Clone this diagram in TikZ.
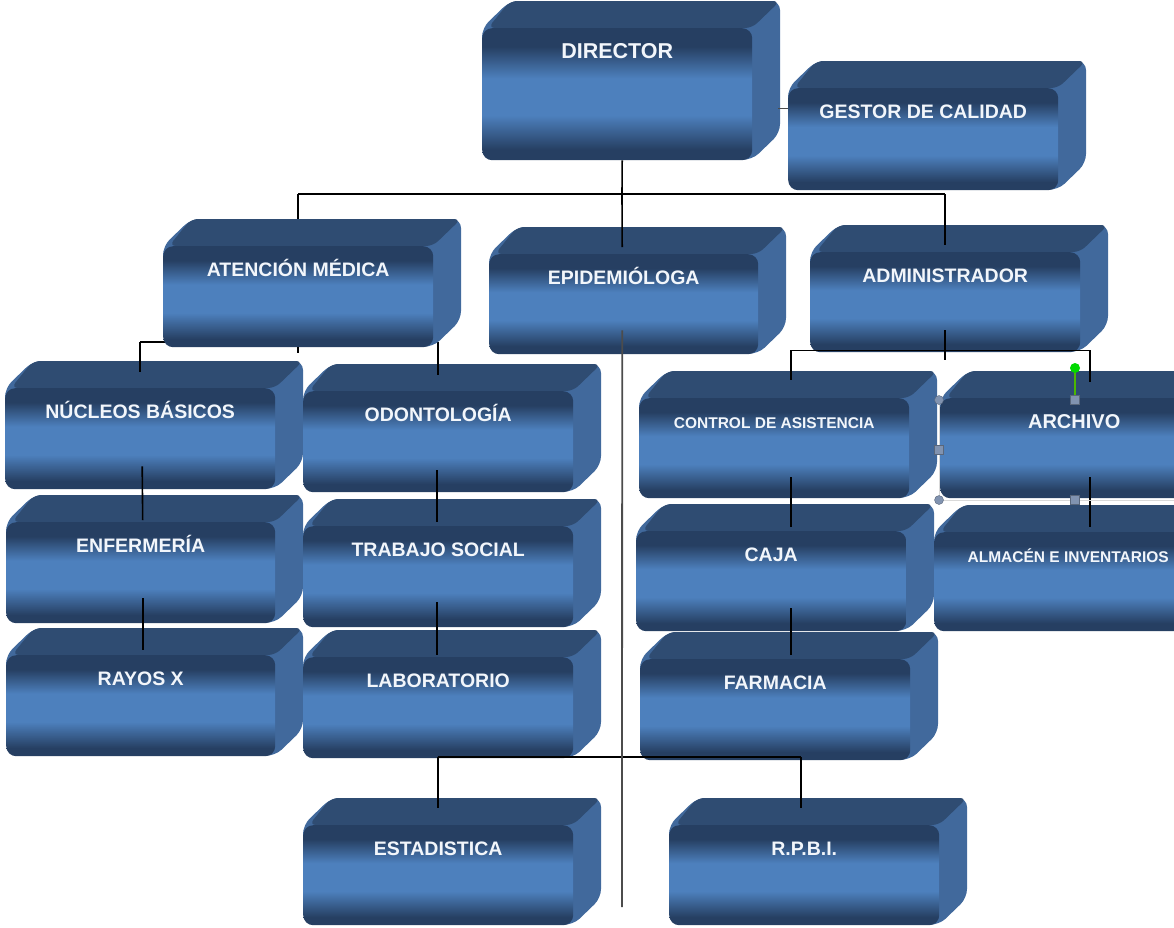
\documentclass[tikz,border=0pt]{standalone}
\usepackage{fontspec}
\setmainfont{Liberation Sans}
\usetikzlibrary{calc}
\definecolor{fdk}{HTML}{263F62}
\definecolor{flt}{HTML}{4D80BD}
\definecolor{topc}{HTML}{2F4C72}
\definecolor{sidec}{HTML}{41699C}
\definecolor{txtc}{HTML}{F2F6FB}
\definecolor{handle}{HTML}{8193B0}
\pgfdeclareverticalshading{frontgrad}{100bp}{color(0bp)=(fdk); color(25bp)=(fdk); color(29bp)=(fdk); color(42bp)=(flt); color(56bp)=(flt); color(68bp)=(fdk); color(75bp)=(fdk); color(100bp)=(fdk)}
\tikzset{
  frontbox/.style={rectangle, rounded corners=10pt, shading=frontgrad, anchor=north west,
    inner sep=0pt, text height=30pt, text=txtc},
  conn/.style={draw=black, line width=1.6pt},
  conng/.style={draw=black!70, line width=1.8pt},
}
\newcommand\tdbox[7]{%
  \fill[sidec,rounded corners=9pt] (#2,{#5-12}) -- (#2,#3) -- ({#2+28},{#3-27}) -- ({#4+28},{#3-27}) -- ({#4+28},{#5-27}) -- (#4,#5) -- cycle;
  \fill[topc,rounded corners=7pt] ({#2+6},#3) -- ({#2+28},{#3-27}) -- ({#4+28},{#3-27}) -- (#4,#3) -- cycle;
  \pgfmathsetmacro\bw{#4-#2}\pgfmathsetmacro\bh{#5-#3}\pgfmathsetmacro\bd{#5-#3-30}%
  \node[frontbox,minimum width=\bw pt,minimum height=\bh pt,text depth=\bd pt,font=\bfseries\fontsize{#6}{#6}\selectfont] (#1) at (#2,#3) {#7};
}
\begin{document}
\begin{tikzpicture}[x=1pt,y=-1pt]
\useasboundingbox (0,0) rectangle (1174,927);
\clip (0,0) rectangle (1174,927);
% top level
\tdbox{dir}{482}{28}{752}{160}{21.5}{DIRECTOR}
\tdbox{ges}{788}{88}{1058}{190}{19.5}{GESTOR DE CALIDAD}
\tdbox{epi}{489}{254}{758}{354}{19.5}{EPIDEMIÓLOGA}
\tdbox{adm}{810}{252}{1080}{352}{19.5}{ADMINISTRADOR}
% left branch
\tdbox{nuc}{5}{388}{275}{489}{19.5}{NÚCLEOS BÁSICOS}
\tdbox{odo}{303}{391}{573}{492}{19.5}{ODONTOLOGÍA}
\coordinate (b2) at (0,342);
\draw[conn] (nuc.north |- b2) -- (odo.north |- b2);
\draw[conn] (nuc.north |- b2) -- ([yshift=16pt]nuc.north);
\draw[conn] (odo.north |- b2) -- ([yshift=16pt]odo.north);
\tdbox{aten}{163}{246}{433}{347}{19.5}{ATENCIÓN MÉDICA}
\draw[conn] (aten.south) -- ++(0,6);
\tdbox{enf}{6}{522}{275}{623}{19.5}{ENFERMERÍA}
\tdbox{tra}{303}{526}{573}{627}{19.5}{TRABAJO SOCIAL}
\tdbox{ray}{6}{655}{275}{756}{19.5}{RAYOS X}
\tdbox{lab}{303}{657}{573}{758}{19.5}{LABORATORIO}
% right branch
\tdbox{con}{639}{398}{909}{498}{15.5}{CONTROL DE ASISTENCIA}
\tdbox{arc}{940}{398}{1208}{498}{20}{ARCHIVO}
\tdbox{caj}{636}{531}{906}{631}{19.5}{CAJA}
\tdbox{alm}{934}{532}{1202}{631}{15.5}{ALMACÉN E INVENTARIOS}
\tdbox{far}{640}{659}{910}{760}{19.5}{FARMACIA}
% bottom
\tdbox{est}{303}{825}{573}{925}{19.5}{ESTADISTICA}
\tdbox{rpb}{669}{825}{939}{925}{19.5}{R.P.B.I.}
% top bus
\coordinate (b1) at (622,194);
\draw[conn] ([xshift=5pt]dir.south) -- (b1);
\draw[conn] (aten.north |- b1) -- (adm.north |- b1);
\draw[conn] (aten.north |- b1) -- ([yshift=27pt]aten.north);
\draw[conn] (b1) -- ([xshift=-1.5pt,yshift=7pt]epi.north);
\draw[conn] (adm.north |- b1) -- ([yshift=7pt]adm.north);
\draw[conng,line width=1.3pt] ([yshift=31pt]ges.west) -- ++(-10,0);
% left chains
\draw[conn] ([xshift=2pt,yshift=23pt]nuc.south) -- ([xshift=2pt,yshift=2pt]enf.north);
\draw[conn] ([xshift=2pt,yshift=25pt]enf.south) -- ([xshift=2pt,yshift=5pt]ray.north);
\draw[conn] ([xshift=-1pt,yshift=22pt]odo.south) -- ([xshift=-1pt,yshift=4pt]tra.north);
\draw[conn] ([xshift=-1pt,yshift=25pt]tra.south) -- ([xshift=-1pt,yshift=2pt]lab.north);
% lab bus
\coordinate (b4) at (0,757);
\coordinate (rT) at ([xshift=-3pt]rpb.north);
\draw[conn] (est.north |- b4) -- (rT |- b4);
\draw[conn] (est.north |- b4) -- ([yshift=17pt]est.north);
\draw[conn] (rT |- b4) -- ([yshift=17pt]rT);
% epidemiologa line
\coordinate (epiend) at (622,907);
\draw[conng] ([xshift=-1.5pt,yshift=24pt]epi.south) -- (epiend);
% admin bus
\coordinate (cT) at ([xshift=17pt]con.north);
\coordinate (aT) at ([xshift=16pt]arc.north);
\coordinate (b3) at ([yshift=2pt]adm.south);
\draw[conn] ([yshift=22pt]adm.south) -- ++(0,30);
\draw[conn] (cT |- b3) -- (aT |- b3);
\draw[conn] (cT |- b3) -- ([yshift=18pt]cT);
\draw[conn] (aT |- b3) -- ([yshift=16pt]aT);
\draw[conn] ([xshift=17pt,yshift=21pt]con.south) -- ([xshift=20pt,yshift=4pt]caj.north);
\draw[conn] ([xshift=20pt,yshift=23pt]caj.south) -- ([xshift=16pt,yshift=4pt]far.north);
\draw[conn] ([xshift=16pt,yshift=21pt]arc.south) -- ([xshift=22pt,yshift=5pt]alm.north);
% selection handles on ARCHIVO
\draw[black!15, line width=1pt] (939,400) -- (939,500) -- (1174,500);
\draw[green!60!black!70!yellow, line width=1.2pt] (1075,372) -- (1075,398);
\fill[green!85!black] (1075,368) circle (5);
\foreach \p in {(939,400),(939,500)} \filldraw[fill=handle,draw=handle!70!black,line width=0.4pt] \p circle (4.5);
\foreach \p in {(1075,400),(939,450),(1075,500)} \filldraw[fill=handle,draw=handle!70!black,line width=0.4pt] \p ++(-4.5,-4.5) rectangle ++(9,9);
\end{tikzpicture}
\end{document}
